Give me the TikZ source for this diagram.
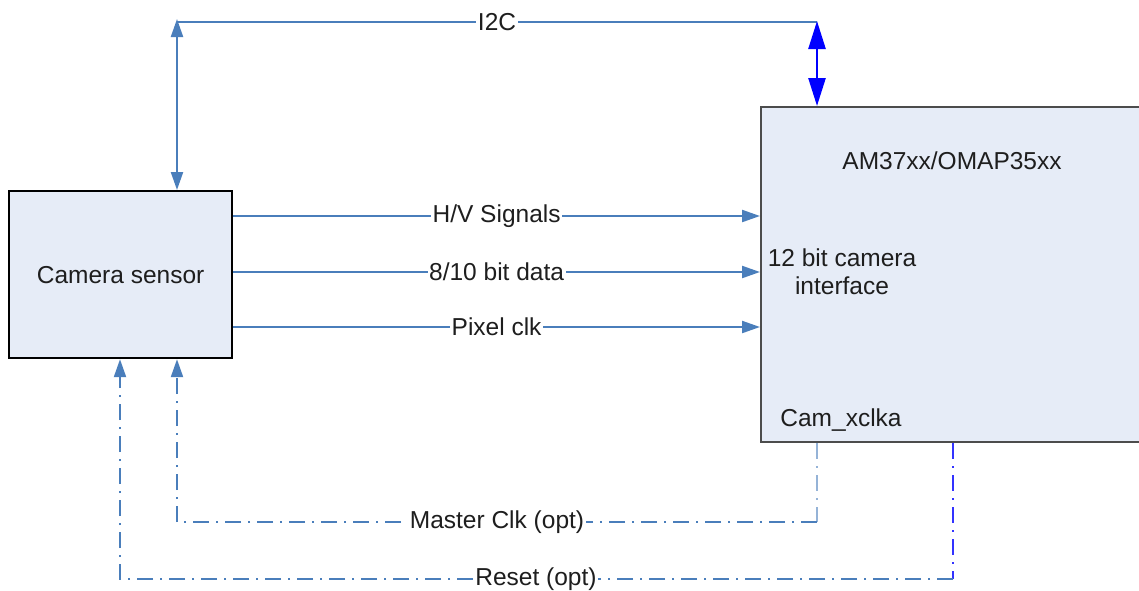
\documentclass[tikz,border=0pt]{standalone}
\usepackage{fontspec}
\setmainfont{Liberation Sans}
\usetikzlibrary{arrows.meta}
\definecolor{lineblue}{HTML}{4A7EBB}
\definecolor{lightline}{HTML}{95B3D7}
\definecolor{pureblue}{HTML}{0000FF}
\definecolor{resetblue}{HTML}{3333FF}
\definecolor{boxfill}{HTML}{E6ECF7}
\definecolor{txt}{HTML}{1E1E1E}
\tikzset{
  sig/.style={draw=lineblue, line width=2.2pt},
  sigtip/.tip={Triangle[length=18pt,width=12pt]},
  bigtip/.tip={Triangle[length=28pt,width=17pt]},
  ddash/.style={line width=2.2pt, dash pattern=on 16pt off 7pt on 2pt off 7pt},
  blk/.style={draw=black, line width=2.2pt, fill=boxfill},
  lbl/.style={fill=white, inner sep=1.5pt, text=txt, font=\fontsize{24.5}{28}\selectfont},
  txtn/.style={inner sep=0pt, text=txt, font=\fontsize{24.5}{28}\selectfont}
}
\begin{document}
\begin{tikzpicture}[x=1pt,y=-1pt]
\useasboundingbox (0,0) rectangle (1139,590);
% boxes
\node[blk, anchor=north west, minimum width=223pt, minimum height=167pt, inner sep=0pt,
      font=\fontsize{24.5}{28}\selectfont, text=txt] (cam) at (8,190) {Camera sensor};
\node[draw=black!70, line width=2.4pt, fill=boxfill, anchor=north west, minimum width=400pt,
      minimum height=335pt, inner sep=0pt] (am) at (760,106) {};
\node[txtn] (amt) at (952,161) {AM37xx/OMAP35xx};
\node[txtn, align=center] (cif) at (842,272) {12 bit camera\\interface};
\node[txtn] (xclk) at (841,420) {Cam\_xclka};
% coordinates
\coordinate (i2cL) at (177,22);
\coordinate (i2cR) at (817,22);
\coordinate (mcR) at (817,522);
\coordinate (mcL) at (177,522);
\coordinate (rsR) at (953,579);
\coordinate (rsL) at (120,579);
% I2C
\draw[sig] (i2cL) -- (i2cR) node[lbl, pos=0.5] (i2ct) {I2C};
\draw[sig, sigtip-sigtip] (cam.north -| i2cL) -- ([yshift=3pt]i2cL);
\draw[draw=pureblue, line width=2.5pt, bigtip-bigtip, color=pureblue] (am.north -| i2cR) -- ([yshift=1pt]i2cR);
% signals
\draw[sig, -sigtip] (cam.east |- 0,216) -- (am.west |- 0,216) node[lbl, pos=0.5] (hv) {H/V Signals};
\draw[sig, -sigtip] (cam.east |- 0,272) -- (am.west |- 0,272) node[lbl, pos=0.5] (dat) {8/10 bit data};
\draw[sig, -sigtip] (cam.east |- 0,327) -- (am.west |- 0,327) node[lbl, pos=0.5] (pix) {Pixel clk};
% Master clk
\draw[ddash, draw=lightline] (am.south -| mcR) -- (mcR);
\draw[ddash, draw=lineblue, -sigtip] (mcR) -- (mcL) -- (cam.south -| mcL);
\node[lbl] (mct) at (497,522) {Master Clk (opt)};
% Reset
\draw[ddash, draw=resetblue] (am.south -| rsR) -- (rsR);
\draw[ddash, draw=lineblue, -sigtip] (rsR) -- (rsL) -- (cam.south -| rsL);
\node[lbl] (rst) at (536,579) {Reset (opt)};
\end{tikzpicture}
\end{document}
